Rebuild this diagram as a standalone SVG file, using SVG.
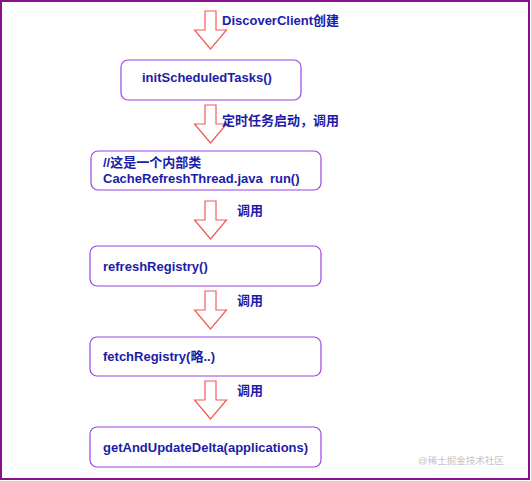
<svg xmlns="http://www.w3.org/2000/svg" width="531" height="481" viewBox="0 0 531 481">
<style>
.node rect{fill:#fff;stroke:#9b45e6;stroke-width:1.2}
.t{font-family:"Liberation Sans","Noto Sans CJK SC",sans-serif;font-size:13px;font-weight:bold;fill:#1c1ca8;white-space:pre}
.arr{fill:#fff;stroke:#f25a5a;stroke-width:1.2;stroke-linejoin:miter}
.wm{font-family:"Liberation Sans","Noto Sans CJK SC",sans-serif;font-size:9.5px;fill:#c4c4c4}
</style>
<defs>
<path id="blk" d="M-5.5,0 H5.5 V19 H16 L0,38 L-16,19 H-5.5 Z"/>
</defs>
<rect x="1" y="1" width="528" height="478" fill="#fff" stroke="#8a0f8f" stroke-width="2"/>
<g id="connectors">
<use href="#blk" class="arr" x="210.5" y="11"/>
<use href="#blk" class="arr" x="210.5" y="105"/>
<use href="#blk" class="arr" x="210.5" y="201"/>
<use href="#blk" class="arr" x="210.5" y="291"/>
<use href="#blk" class="arr" x="210.5" y="381"/>
<text class="t" x="222" y="25">DiscoverClient创建</text>
<text class="t" x="222" y="125">定时任务启动，调用</text>
<text class="t" x="237" y="215">调用</text>
<text class="t" x="237" y="305">调用</text>
<text class="t" x="237" y="395">调用</text>
</g>
<g id="n1" class="node"><rect x="121" y="60" width="180" height="40" rx="7"/><text class="t" x="142" y="82">initScheduledTasks()</text></g>
<g id="n2" class="node"><rect x="91" y="151" width="230" height="39" rx="7"/><text class="t" x="103" y="167">//这是一个内部类</text><text class="t" x="103" y="183" xml:space="preserve">CacheRefreshThread.java  run()</text></g>
<g id="n3" class="node"><rect x="90" y="246" width="231" height="40" rx="7"/><text class="t" x="103" y="271">refreshRegistry()</text></g>
<g id="n4" class="node"><rect x="90" y="337" width="231" height="39" rx="7"/><text class="t" x="103" y="361">fetchRegistry(略..)</text></g>
<g id="n5" class="node"><rect x="90" y="427" width="231" height="40" rx="7"/><text class="t" x="103" y="452">getAndUpdateDelta(applications)</text></g>
<text class="wm" x="418" y="464">@稀土掘金技术社区</text>
</svg>
